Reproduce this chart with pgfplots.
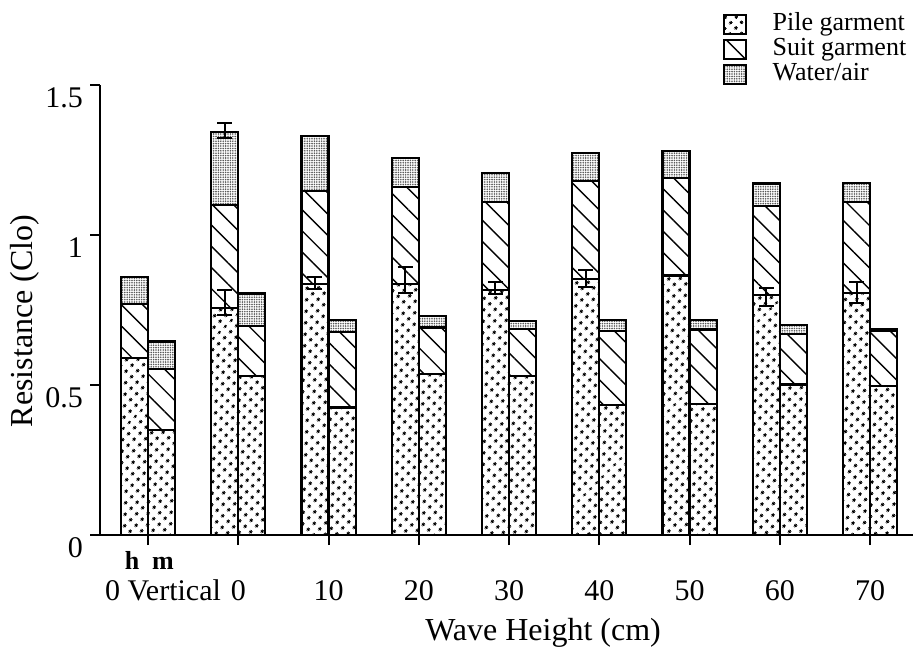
\documentclass[border=0pt]{standalone}
\usepackage{fontspec}
\setmainfont{Liberation Serif}
\usepackage{pgfplots}
\pgfplotsset{compat=1.18}
\usepackage{pgfplotstable}
\usetikzlibrary{patterns.meta}

% stacked parts of each bar: h bars at i-0.15, m bars at i+0.15
\pgfplotstableread{
x     pile   suit   water
-0.15 0.590  0.180  0.090
 0.15 0.350  0.203  0.092
 0.85 0.758  0.342  0.244
 1.15 0.531  0.165  0.109
 1.85 0.838  0.309  0.183
 2.15 0.425  0.251  0.042
 2.85 0.838  0.323  0.097
 3.15 0.536  0.156  0.039
 3.85 0.816  0.294  0.097
 4.15 0.530  0.157  0.027
 4.85 0.854  0.326  0.094
 5.15 0.433  0.246  0.039
 5.85 0.865  0.325  0.090
 6.15 0.436  0.249  0.033
 6.85 0.799  0.298  0.075
 7.15 0.502  0.168  0.031
 7.85 0.808  0.302  0.064
 8.15 0.497  0.182  0.008
}\resist

% error bars (centre, half length)
\pgfplotstableread{
x     y      e
 0.85 0.775  0.043
 0.85 1.348  0.025
 1.85 0.840  0.020
 2.85 0.851  0.043
 3.85 0.823  0.021
 4.85 0.855  0.027
 6.85 0.793  0.031
 7.85 0.809  0.034
}\errs

\tikzset{
  pilefill/.style={draw=black, line width=1.1pt,
    pattern={Dots[distance=4pt, radius=0.9pt, angle=45]}},
  suitfill/.style={draw=black, line width=1.1pt,
    pattern={Lines[angle=-45, distance=7.5pt, line width=0.7pt]}},
  waterfill/.style={draw=black, line width=1.1pt,
    pattern={Dots[distance=1.2pt, radius=0.45pt]}, pattern color=black!65},
}

\pgfplotsset{
  frame/.style={
    at={(0pt,0pt)}, anchor=south west,
    scale only axis, width=406.5pt, height=225pt,
    xmin=-0.532, xmax=8.476, ymin=0, ymax=1.5,
    clip=false,
  },
}

\begin{document}
\begin{tikzpicture}
  \useasboundingbox (-50pt,-57.5pt) rectangle (406.5pt,267.5pt);
  \begin{axis}[
    frame,
    ybar stacked, bar width=0.3,
    axis x line*=bottom, axis y line*=left,
    axis line style={-, line width=1.1pt},
    tick align=outside, major tick length=5pt,
    tick style={black, line width=1pt},
    xtick={0,...,8},
    xticklabels={{\hspace*{15pt}0 Vertical},0,10,20,30,40,50,60,70},
    ytick={0,0.5,1,1.5},
    yticklabels={0,0.5,1,1.5},
    tick label style={font=\fontsize{15}{15}\selectfont},
    yticklabel style={yshift=-6.5pt},
    xticklabel style={anchor=north, yshift=-14pt},
    xlabel={Wave Height (cm)},
    ylabel={Resistance (Clo)},
    label style={font=\fontsize{16}{16}\selectfont},
    xlabel style={at={(axis description cs:0.545,-0.218)}, anchor=center},
    ylabel style={at={(axis description cs:-0.092,0.476)}, anchor=center},
    legend style={at={(axis description cs:0.766,1.164)}, anchor=north west,
      draw=none, fill=none, inner sep=0pt, row sep=0pt,
      font=\fontsize{13}{13}\selectfont,
      nodes={text height=8.5pt, text depth=2.5pt, inner sep=0.75pt}},
    legend cell align=left,
    legend image code/.code={
      \draw[#1, line width=0.9pt] (0pt,-4.75pt) rectangle (11pt,4.75pt);
      \path (23pt,0pt);
    },
  ]
    \addplot[pilefill]  table[x=x, y=pile]  {\resist};
    \addlegendentry{Pile garment}
    \addplot[suitfill]  table[x=x, y=suit]  {\resist};
    \addlegendentry{Suit garment}
    \addplot[waterfill] table[x=x, y=water] {\resist};
    \addlegendentry{Water/air}

    \node[font=\bfseries\fontsize{13}{13}\selectfont, anchor=base]
      at (axis cs:-0.177,0) [yshift=-17pt] {h};
    \node[font=\bfseries\fontsize{13}{13}\selectfont, anchor=base]
      at (axis cs:0.166,0) [yshift=-17pt] {m};
  \end{axis}

  \begin{axis}[frame, hide axis]
    \addplot[black, only marks, mark=text, text mark={},
      error bars/.cd, y dir=both, y explicit,
      error bar style={black, line width=1pt},
      error mark options={black, rotate=90, mark size=3.75pt, line width=1pt}]
      table[x=x, y=y, y error=e] {\errs};
  \end{axis}
\end{tikzpicture}
\end{document}
